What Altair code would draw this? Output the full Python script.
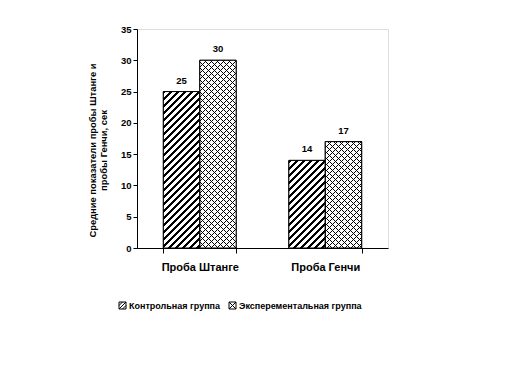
import altair as alt
import pandas as pd

# ---- data ----
categories = ["Проба Штанге", "Проба Генчи"]
groups = ["Контрольная группа", "Эксперементальная группа"]
control = [25, 14]
experimental = [30, 17]

rows = []
for i, c in enumerate(categories):
    rows.append({"cat": c, "grp": groups[0], "val": control[i]})
    rows.append({"cat": c, "grp": groups[1], "val": experimental[i]})
df = pd.DataFrame(rows)

# ---- layout ----
PW, PH = 251, 219
YMAX = 35
P_IN, P_OUT = 0.42, 0.21
step = PW / (len(categories) - P_IN + 2 * P_OUT)
BAR_W = step * (1 - P_IN) / 2
FONT = "Liberation Sans"


def stripes(W, H, period, line, direction, bg, fg):
    L = W + H
    k = (W + H) / (W * W + H * H)
    stops = []
    pos = 0.0
    while pos / L <= 1:
        s = pos / L
        e = min((pos + line) / L, 1)
        stops += [{"offset": s, "color": bg}, {"offset": s, "color": fg},
                  {"offset": e, "color": fg}, {"offset": e, "color": bg}]
        pos += period
    stops.append({"offset": 1, "color": bg})
    if direction == "/":
        return {"gradient": "linear", "x1": 0, "y1": 0, "x2": k * W, "y2": k * H, "stops": stops}
    return {"gradient": "linear", "x1": 0, "y1": 1, "x2": k * W, "y2": 1 - k * H, "stops": stops}


xenc = alt.X("cat:N", scale=alt.Scale(domain=categories, paddingInner=P_IN, paddingOuter=P_OUT),
             axis=alt.Axis(title=None, labelFont=FONT, labelFontWeight="bold", labelFontSize=11,
                           labelColor="black", tickBand="extent", tickSize=5, tickColor="black",
                           domainColor="black", labelPadding=8, labelAngle=0))
xoff = alt.XOffset("grp:N", scale=alt.Scale(domain=groups, paddingInner=0, paddingOuter=0))
yenc = alt.Y("val:Q", scale=alt.Scale(domain=[0, YMAX], nice=False),
             axis=alt.Axis(values=list(range(0, 36, 5)), grid=False, tickSize=4, tickColor="black",
                           domainColor="black", labelFont=FONT, labelFontWeight="bold",
                           labelFontSize=9.5, labelColor="black", labelPadding=2,
                           title=["Средние показатели пробы Штанге и", "пробы Генчи, сек"],
                           titleFont=FONT, titleFontWeight="bold", titleFontSize=9.4,
                           titleColor="black", titleX=-40, titleY=121, titleLineHeight=11))

legend_shape = ("datum.value === '" + groups[0] + "' ? 'M-1,-1H1V1H-1Z M-1,1L1,-1 M-1,0L0,-1 M0,1L1,0'"
                " : 'M-1,-1H1V1H-1Z M-1,1L1,-1 M-1,-1L1,1'")

base = alt.Chart(df)

legend_layer = base.mark_bar(stroke="black", strokeWidth=1).encode(
    x=xenc, xOffset=xoff, y=yenc,
    color=alt.Color("grp:N", scale=alt.Scale(domain=groups, range=["white", "white"]),
                    legend=alt.Legend(title=None, orient="none", direction="horizontal",
                                      legendX=-19, legendY=272,
                                      symbolType=alt.ExprRef(expr=legend_shape),
                                      symbolSize=49, symbolFillColor="white",
                                      symbolStrokeColor="black", symbolStrokeWidth=1,
                                      labelFont=FONT, labelFontWeight="bold", labelFontSize=9,
                                      labelColor="black", labelOffset=2, columnPadding=6)),
)

layers = [legend_layer]
for _, r in df.iterrows():
    H = r["val"] * PH / YMAX
    sel = (alt.datum.cat == r["cat"]) & (alt.datum.grp == r["grp"])
    if r["grp"] == groups[0]:
        fills = [stripes(BAR_W, H, 7, 3, "/", "white", "black")]
    else:
        fills = [stripes(BAR_W, H, 6, 1.1, "/", "white", "black"),
                 stripes(BAR_W, H, 6, 1.1, "\\", "rgba(255,255,255,0)", "black")]
    for f in fills:
        layers.append(base.transform_filter(sel).mark_bar(fill=f, strokeWidth=0).encode(
            x=xenc, xOffset=xoff, y=yenc))

outline = base.mark_bar(fillOpacity=0, stroke="black", strokeWidth=1).encode(x=xenc, xOffset=xoff, y=yenc)
labels = base.mark_text(dy=-6, baseline="bottom", font=FONT, fontWeight="bold", fontSize=9.5,
                        color="black").encode(x=xenc, xOffset=xoff, y=yenc, text="val:Q")

chart = alt.layer(*layers, outline, labels).properties(
    width=PW, height=PH,
    autosize=alt.AutoSizeParams(type="none"),
    padding={"left": 129, "top": 21, "right": 121, "bottom": 128},
).configure_view(stroke=None).configure(background="white")

chart.save("out.html", embed_options={"renderer": "svg", "actions": False})
